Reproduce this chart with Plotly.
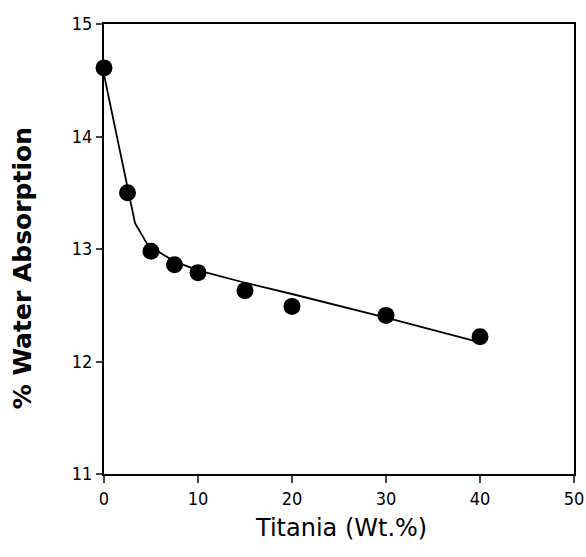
import plotly.graph_objects as go

# measured points
titania = [0, 2.5, 5, 7.5, 10, 15, 20, 30, 40]
absorption = [14.61, 13.5, 12.98, 12.86, 12.79, 12.63, 12.49, 12.41, 12.22]

# drawn curve
curve_x = [0, 2.5, 3.3, 4.7, 7.5, 10, 15, 20, 30, 40]
curve_y = [14.55, 13.55, 13.23, 13.03, 12.89, 12.81, 12.7, 12.6, 12.39, 12.17]

x_ticks = [0, 10, 20, 30, 40, 50]
y_ticks = [11, 12, 13, 14, 15]

fig = go.Figure()
fig.add_trace(go.Scatter(x=curve_x, y=curve_y, mode="lines",
                         line=dict(color="black", width=1.8), showlegend=False))
fig.add_trace(go.Scatter(x=titania, y=absorption, mode="markers", cliponaxis=False,
                         marker=dict(color="black", size=17), showlegend=False))

fig.update_layout(
    width=586, height=557,
    margin=dict(l=104, r=12, t=24, b=83),
    paper_bgcolor="white", plot_bgcolor="white",
    font=dict(family="DejaVu Sans Condensed, Liberation Sans, sans-serif", color="black"),
    annotations=[
        dict(text="Titania (Wt.%)", xref="paper", yref="paper", x=0.504, y=-0.12,
             xanchor="center", yanchor="middle", showarrow=False,
             font=dict(size=24, family="DejaVu Sans")),
        dict(text="<b>% Water Absorption</b>", xref="paper", yref="paper", x=-0.1745, y=0.457,
             xanchor="center", yanchor="middle", textangle=-90, showarrow=False,
             font=dict(size=25, family="DejaVu Sans")),
    ],
)
fig.update_xaxes(range=[0, 50], tickvals=x_ticks, ticks="outside", ticklen=7, tickwidth=1.5,
                 showline=True, linecolor="black", linewidth=2, mirror=True, automargin=False,
                 showgrid=False, zeroline=False, tickfont=dict(size=18))
fig.update_yaxes(range=[11, 15], tickvals=y_ticks, ticks="outside", ticklen=6, tickwidth=1.5,
                 showline=True, linecolor="black", linewidth=2, mirror=True, automargin=False,
                 showgrid=False, zeroline=False, tickfont=dict(size=18))

fig.write_html("out.html", config={"displayModeBar": False},
               post_script="document.body.style.margin='0';document.body.style.overflow='hidden';")
